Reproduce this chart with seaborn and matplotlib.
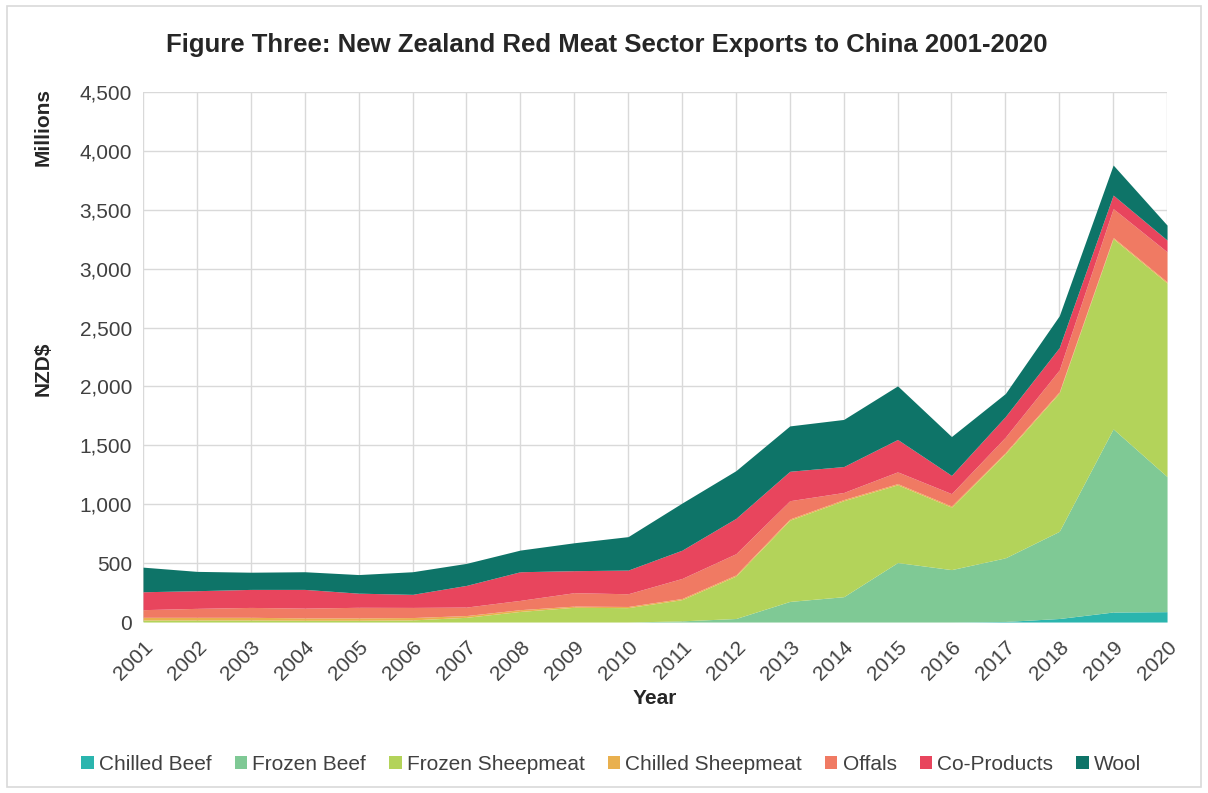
import numpy as np
import pandas as pd
import matplotlib
matplotlib.use("Agg")
import matplotlib.pyplot as plt
from matplotlib.patches import Rectangle, Patch
from matplotlib.ticker import FuncFormatter, MultipleLocator
import seaborn as sns

years = [str(y) for y in range(2001, 2021)]

chilled_beef = [0, 0, 0, 0, 0, 0, 0, 0, 0, 0, 0, 0, 0, 0, 0, 0, 5, 30, 85, 88]
frozen_beef = [0, 0, 0, 0, 0, 0, 0, 0, 0, 0, 10, 30, 175, 215, 505, 445, 540, 740, 1555, 1147]
frozen_sheepmeat = [17, 17, 17, 15, 15, 18, 40, 90, 125, 122, 180, 360, 690, 815, 660, 530, 885, 1175, 1615, 1643]
chilled_sheepmeat = [23, 23, 23, 20, 20, 20, 15, 15, 10, 10, 10, 10, 10, 10, 10, 10, 10, 10, 10, 10]
offals = [65, 76, 84, 83, 90, 86, 72, 79, 114, 108, 170, 180, 155, 60, 100, 105, 130, 185, 245, 255]
co_products = [152, 150, 153, 159, 120, 111, 184, 243, 187, 201, 240, 300, 250, 220, 275, 155, 175, 190, 115, 100]
wool = [209, 164, 146, 150, 158, 192, 187, 184, 237, 284, 400, 405, 385, 400, 455, 330, 195, 270, 255, 127]

series_names = ["Chilled Beef", "Frozen Beef", "Frozen Sheepmeat", "Chilled Sheepmeat",
                "Offals", "Co-Products", "Wool"]
colors = ["#2BB5AE", "#7FC995", "#B3D35A", "#E9B04E", "#F07A63", "#E8455D", "#0E7468"]

df = pd.DataFrame({
    "Year": years,
    "Chilled Beef": chilled_beef,
    "Frozen Beef": frozen_beef,
    "Frozen Sheepmeat": frozen_sheepmeat,
    "Chilled Sheepmeat": chilled_sheepmeat,
    "Offals": offals,
    "Co-Products": co_products,
    "Wool": wool,
})

sns.set_theme(style="whitegrid")
plt.rcParams["font.family"] = ["Liberation Sans", "DejaVu Sans"]

fig = plt.figure(figsize=(12.08, 7.93), dpi=100)
fig.patch.set_facecolor("white")
fig.patches.append(Rectangle((0.006, 0.008), 0.988, 0.984, transform=fig.transFigure,
                             fill=False, edgecolor="#D9D9D9", linewidth=1.2))

ax = fig.add_axes([0.1184, 0.2156, 0.8477, 0.6684])
x = np.arange(len(years))
ax.stackplot(x, [df[n].values for n in series_names], colors=colors,
             labels=series_names, linewidth=0)

ax.set_xlim(0, len(years) - 1)
ax.set_ylim(0, 4500)
ax.yaxis.set_major_locator(MultipleLocator(500))
ax.yaxis.set_major_formatter(FuncFormatter(lambda v, p: f"{int(v):,}"))
ax.set_xticks(x)
ax.set_xticklabels(years, rotation=45, ha="right", rotation_mode="anchor",
                   fontsize=15, color="#404040")
ax.tick_params(axis="y", labelsize=15, labelcolor="#404040", pad=2)
ax.tick_params(axis="x", pad=5)
ax.grid(True, color="#D9D9D9", linewidth=1.0)
ax.set_axisbelow(True)
for s in ax.spines.values():
    s.set_visible(False)
ax.set_facecolor("white")

ax.set_xlabel("Year", fontsize=15, fontweight="bold", color="#262626", labelpad=4)
ax.set_ylabel("")
fig.text(0.036, 0.535, "NZD$", rotation=90, fontsize=15, fontweight="bold",
         color="#262626", ha="center", va="center")
fig.text(0.036, 0.84, "Millions", rotation=90, fontsize=15, fontweight="bold",
         color="#262626", ha="center", va="center")

fig.text(0.502, 0.943, "Figure Three: New Zealand Red Meat Sector Exports to China 2001-2020",
         fontsize=18.5, fontweight="bold", color="#262626", ha="center", va="center")

handles = [Patch(facecolor=c, edgecolor="none") for c in colors]
fig.legend(handles, series_names, loc="center", bbox_to_anchor=(0.506, 0.036), ncol=7,
           frameon=False, fontsize=15, handlelength=0.6, handleheight=0.6,
           handletextpad=0.25, columnspacing=1.1, labelcolor="#404040")

fig.savefig("out.png", dpi=100)
